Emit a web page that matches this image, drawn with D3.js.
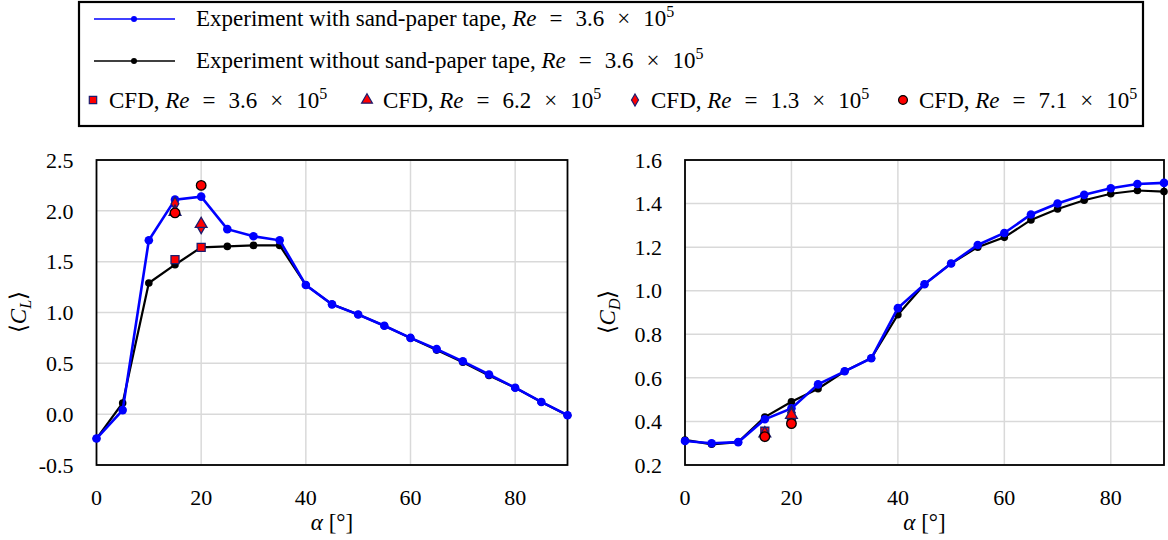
<!DOCTYPE html>
<meta charset="utf-8">
<style>
    body { margin: 0; background: #fff; }
    .grid line { stroke: #d9d9d9; stroke-width: 1.5; }
</style>
<body>
<script src="https://cdn.jsdelivr.net/npm/d3@7"></script>
<script>

    // angle of attack, deg
    var alpha = [0, 5, 10, 15, 20, 25, 30, 35, 40, 45, 50, 55, 60, 65, 70, 75, 80, 85, 90];

    // lift coefficient
    var clTape   = [-0.24, 0.04, 1.71, 2.11, 2.14, 1.82, 1.75, 1.71, 1.27, 1.08, 0.98, 0.87, 0.75, 0.64, 0.52, 0.39, 0.26, 0.12, -0.01];
    var clNoTape = [-0.24, 0.11, 1.29, 1.47, 1.64, 1.65, 1.66, 1.66, 1.27, 1.08, 0.98, 0.87, 0.75, 0.63, 0.51, 0.38, 0.26, 0.12, -0.01];

    // drag coefficient
    var cdTape   = [0.31, 0.30, 0.305, 0.41, 0.46, 0.57, 0.63, 0.69, 0.92, 1.03, 1.125, 1.21, 1.265, 1.35, 1.40, 1.44, 1.47, 1.49, 1.495];
    var cdNoTape = [0.315, 0.295, 0.305, 0.42, 0.49, 0.55, 0.63, 0.69, 0.89, 1.03, 1.125, 1.20, 1.245, 1.325, 1.375, 1.415, 1.445, 1.46, 1.455];

    // CFD points at alpha = 15 and 20
    var cfdAlpha = [15, 20];
    var cfdClRe36 = [1.52, 1.64];
    var cfdClRe62 = [1.99, 1.87];
    var cfdClRe13 = [2.07, 1.84];
    var cfdClRe71 = [1.98, 2.25];
    var cfdCdRe36 = [0.355, 0.40];
    var cfdCdRe62 = [0.345, 0.43];
    var cfdCdRe13 = [0.34, 0.44];
    var cfdCdRe71 = [0.33, 0.39];

    var xTicks = [0, 20, 40, 60, 80];
    var clTicks = [-0.5, 0.0, 0.5, 1.0, 1.5, 2.0, 2.5];
    var cdTicks = [0.2, 0.4, 0.6, 0.8, 1.0, 1.2, 1.4, 1.6];

    var width = 1168,
        height = 540;
    var serif = "'Liberation Serif', 'Times New Roman', serif";

    var svg = d3.select("body").append("svg")
        .attr("width", width)
        .attr("height", height)
        .attr("font-family", serif);

    var cfdStyles = [
        {name: "3.6", shape: d3.symbolSquare, size: 64, stroke: "#1c1c6e"},
        {name: "6.2", shape: d3.symbolTriangle, size: 60, stroke: "#1c1c6e"},
        {name: "1.3", shape: d3.symbolDiamond, size: 50, stroke: "#1c1c6e"},
        {name: "7.1", shape: d3.symbolCircle, size: 72, stroke: "#000"}
    ];
    var drawOrder = [2, 0, 1, 3];

    function drawPanel(opt) {
        var x = d3.scaleLinear().domain([0, 90]).range([opt.x0, opt.x1]);
        var y = d3.scaleLinear().domain(opt.yDomain).range([465, 160]);
        var g = svg.append("g");

        // grid
        var grid = g.append("g").attr("class", "grid");
        grid.selectAll(".gy").data(opt.yTicks).enter().append("line")
            .attr("x1", x(0)).attr("x2", x(90))
            .attr("y1", function(d){ return y(d); }).attr("y2", function(d){ return y(d); });
        grid.selectAll(".gx").data(xTicks.slice(1)).enter().append("line")
            .attr("x1", function(d){ return x(d); }).attr("x2", function(d){ return x(d); })
            .attr("y1", y.range()[0]).attr("y2", y.range()[1]);

        // frame
        g.append("rect")
            .attr("x", x(0)).attr("y", y.range()[1])
            .attr("width", x(90) - x(0)).attr("height", y.range()[0] - y.range()[1])
            .attr("fill", "none").attr("stroke", "#000").attr("stroke-width", 1.8);

        // tick labels
        g.selectAll(".yl").data(opt.yTicks).enter().append("text")
            .attr("font-family", serif).attr("font-size", 22)
            .attr("x", x(0) - 23)
            .attr("y", function(d){ return y(d); })
            .attr("dy", "0.35em")
            .attr("text-anchor", "end")
            .text(function(d){ return d3.format(".1f")(d).replace("−", "-"); });
        g.selectAll(".xl").data(xTicks).enter().append("text")
            .attr("font-family", serif).attr("font-size", 22)
            .attr("x", function(d){ return x(d); })
            .attr("y", 505)
            .attr("text-anchor", "middle")
            .text(function(d){ return d; });

        // axis titles
        var xt = g.append("text")
            .attr("x", (x(0) + x(90)) / 2).attr("y", 530)
            .attr("text-anchor", "middle").attr("font-size", 23);
        xt.append("tspan").style("font-style", "italic").text("α");
        xt.append("tspan").text(" [°]");

        var yt = g.append("text")
            .attr("transform", "translate(" + opt.yTitleX + ",312) rotate(-90)")
            .attr("text-anchor", "middle").attr("font-size", 23);
        yt.append("tspan").text("⟨");
        yt.append("tspan").style("font-style", "italic").text("C");
        yt.append("tspan").style("font-style", "italic").style("font-size", "16px")
            .attr("dy", 5).text(opt.sub);
        yt.append("tspan").attr("dy", -5).text("⟩");

        var line = d3.line()
            .x(function(d, i){ return x(alpha[i]); })
            .y(function(d){ return y(d); });

        // experiment without tape (black), then with tape (blue) on top
        [[opt.noTape, "#000", 2.2, 3.8], [opt.tape, "#0000ff", 2.6, 4.3]].forEach(function(s) {
            g.append("path").datum(s[0])
                .attr("d", line)
                .attr("fill", "none").attr("stroke", s[1]).attr("stroke-width", s[2]);
            g.selectAll(null).data(s[0]).enter().append("circle")
                .attr("cx", function(d, i){ return x(alpha[i]); })
                .attr("cy", function(d){ return y(d); })
                .attr("r", s[3]).attr("fill", s[1]);
        });

        // CFD markers
        drawOrder.forEach(function(k) {
            var st = cfdStyles[k];
            g.selectAll(null).data(opt.cfd[k]).enter().append("path")
                .attr("d", d3.symbol().type(st.shape).size(st.size))
                .attr("transform", function(d, i){ return "translate(" + x(cfdAlpha[i]) + "," + y(d) + ")"; })
                .attr("fill", "#ff0000").attr("stroke", st.stroke).attr("stroke-width", 1.3);
        });
    }

    drawPanel({x0: 96.5, x1: 567.5, yDomain: [-0.5, 2.5], yTicks: clTicks, yTitleX: 26, sub: "L",
        tape: clTape, noTape: clNoTape, cfd: [cfdClRe36, cfdClRe62, cfdClRe13, cfdClRe71]});
    drawPanel({x0: 685, x1: 1164, yDomain: [0.2, 1.6], yTicks: cdTicks, yTitleX: 615, sub: "D",
        tape: cdTape, noTape: cdNoTape, cfd: [cfdCdRe36, cfdCdRe62, cfdCdRe13, cfdCdRe71]});

    // legend
    var leg = svg.append("g");
    leg.append("rect")
        .attr("x", 79).attr("y", 2).attr("width", 1064).attr("height", 124)
        .attr("fill", "#fff").attr("stroke", "#000").attr("stroke-width", 2.2);

    function reText(sel, label, val) {
        sel.append("tspan").text(label);
        sel.append("tspan").style("font-style", "italic").text("Re");
        sel.append("tspan").attr("dx", 13).text("=");
        sel.append("tspan").attr("dx", 13).text(val);
        sel.append("tspan").attr("dx", 13).text("×");
        sel.append("tspan").attr("dx", 13).text("10");
        sel.append("tspan").attr("dy", -9).style("font-size", "16px").text("5");
    }

    [["#0000ff", "Experiment with sand-paper tape, ", 19], ["#000", "Experiment without sand-paper tape, ", 61]]
        .forEach(function(r) {
            leg.append("line").attr("x1", 94).attr("x2", 175).attr("y1", r[2]).attr("y2", r[2])
                .attr("stroke", r[0]).attr("stroke-width", 1.6);
            leg.append("circle").attr("cx", 134).attr("cy", r[2]).attr("r", 3).attr("fill", r[0]);
            var t = leg.append("text").attr("x", 196).attr("y", r[2] + 7).attr("font-size", 23);
            reText(t, r[1], "3.6");
        });

    var cfdLegX = [93, 367, 635, 903];
    cfdStyles.forEach(function(st, k) {
        leg.append("path")
            .attr("d", d3.symbol().type(st.shape).size(st.size * 0.85))
            .attr("transform", "translate(" + cfdLegX[k] + ",100)")
            .attr("fill", "#ff0000").attr("stroke", st.stroke).attr("stroke-width", 1.2);
        var t = leg.append("text").attr("x", cfdLegX[k] + 16).attr("y", 108).attr("font-size", 23);
        reText(t, "CFD, ", st.name);
    });
</script>
